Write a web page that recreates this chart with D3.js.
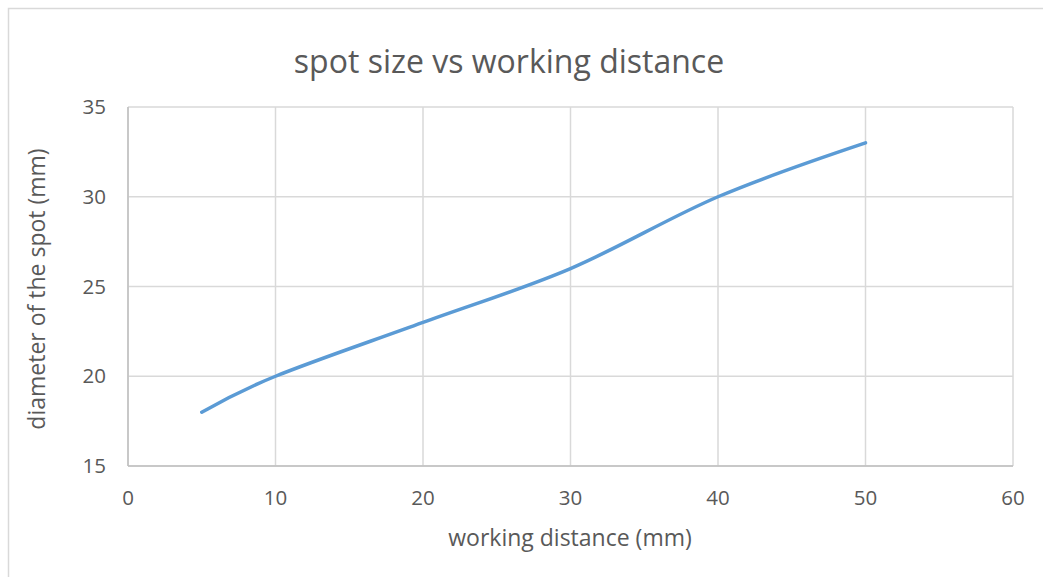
<!DOCTYPE html>
<html>
<head>
<meta charset="utf-8">
<script src="https://cdn.jsdelivr.net/npm/d3@7"></script>
<style>
    body { margin: 0; background: #fff; }
    svg { display: block; font-family: "Open Sans", sans-serif; }
</style>
</head>
<body>
<svg width="1043" height="577"></svg>
<script>
// working distance (mm) and spot diameter (mm)
let distances = [5, 10, 20, 30, 40, 50];
let diameters = [18, 20, 23, 26, 30, 33];
let xTicks = [0, 10, 20, 30, 40, 50, 60];
let yTicks = [15, 20, 25, 30, 35];

let svg = d3.select("svg");
let margin = { left: 128, right: 1013, top: 107, bottom: 466 };

let x = d3.scaleLinear().domain([0, 60]).range([margin.left, margin.right]);
let y = d3.scaleLinear().domain([15, 35]).range([margin.bottom, margin.top]);

// chart area border (right and bottom run off the picture)
svg.append("rect")
    .attr("x", 8.5).attr("y", 8.5)
    .attr("width", 1050).attr("height", 580)
    .attr("fill", "none")
    .attr("stroke", "#d9d9d9")
    .attr("stroke-width", 1.5);

// gridlines
svg.append("g")
    .selectAll("line")
    .data(xTicks)
    .enter()
    .append("line")
    .attr("x1", d => x(d)).attr("x2", d => x(d))
    .attr("y1", margin.top).attr("y2", margin.bottom)
    .attr("stroke", "#d9d9d9")
    .attr("stroke-width", 1.5);

svg.append("g")
    .selectAll("line")
    .data(yTicks)
    .enter()
    .append("line")
    .attr("x1", margin.left).attr("x2", margin.right)
    .attr("y1", d => y(d)).attr("y2", d => y(d))
    .attr("stroke", "#d9d9d9")
    .attr("stroke-width", 1.5);

// axis lines
svg.append("line")
    .attr("x1", margin.left).attr("x2", margin.right)
    .attr("y1", margin.bottom).attr("y2", margin.bottom)
    .attr("stroke", "#bfbfbf").attr("stroke-width", 1.5);
svg.append("line")
    .attr("x1", margin.left).attr("x2", margin.left)
    .attr("y1", margin.top).attr("y2", margin.bottom)
    .attr("stroke", "#bfbfbf").attr("stroke-width", 1.5);

// tick labels
svg.append("g")
    .selectAll("text")
    .data(xTicks)
    .enter()
    .append("text")
    .attr("x", d => x(d))
    .attr("y", 498)
    .attr("dy", "0.35em")
    .attr("text-anchor", "middle")
    .attr("font-size", 20.5)
    .attr("fill", "#595959")
    .text(d => d);

svg.append("g")
    .selectAll("text")
    .data(yTicks)
    .enter()
    .append("text")
    .attr("x", 106)
    .attr("y", d => y(d))
    .attr("dy", "0.35em")
    .attr("text-anchor", "end")
    .attr("font-size", 20.5)
    .attr("fill", "#595959")
    .text(d => d);

// titles
svg.append("text")
    .attr("x", 509).attr("y", 62)
    .attr("dy", "0.35em")
    .attr("text-anchor", "middle")
    .attr("font-size", 32)
    .attr("fill", "#595959")
    .text("spot size vs working distance");

svg.append("text")
    .attr("x", 570).attr("y", 538)
    .attr("dy", "0.35em")
    .attr("text-anchor", "middle")
    .attr("font-size", 23)
    .attr("fill", "#595959")
    .text("working distance (mm)");

svg.append("text")
    .attr("transform", "translate(37,289) rotate(-90)")
    .attr("dy", "0.35em")
    .attr("text-anchor", "middle")
    .attr("font-size", 23)
    .attr("fill", "#595959")
    .text("diameter of the spot (mm)");

// smoothed series line
let line = d3.line()
    .x((d, i) => x(distances[i]))
    .y(d => y(d))
    .curve(d3.curveCatmullRom.alpha(0));

svg.append("path")
    .datum(diameters)
    .attr("d", line)
    .attr("fill", "none")
    .attr("stroke", "#5b9bd5")
    .attr("stroke-width", 3.5)
    .attr("stroke-linecap", "round");
</script>
</body>
</html>
